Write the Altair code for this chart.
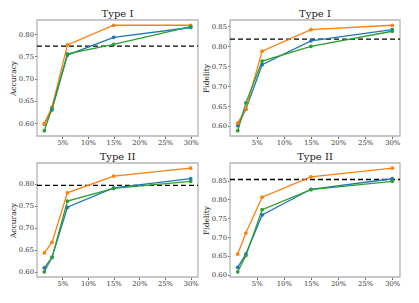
import altair as alt
import pandas as pd

# ---------------- data ----------------
x_pct = [1.5, 3, 6, 15, 30]
series_names = ["Method A", "Method B", "Method C"]
series_colors = ["#1f77b4", "#ff7f0e", "#2ca02c"]

acc1_a = [0.598, 0.630, 0.753, 0.793, 0.815]
acc1_b = [0.599, 0.636, 0.776, 0.820, 0.820]
acc1_c = [0.583, 0.634, 0.756, 0.777, 0.817]
acc1_ref = 0.773

fid1_a = [0.601, 0.642, 0.754, 0.814, 0.842]
fid1_b = [0.607, 0.643, 0.788, 0.842, 0.853]
fid1_c = [0.588, 0.658, 0.763, 0.800, 0.838]
fid1_ref = 0.818

acc2_a = [0.609, 0.633, 0.747, 0.791, 0.812]
acc2_b = [0.643, 0.667, 0.780, 0.818, 0.836]
acc2_c = [0.600, 0.633, 0.761, 0.790, 0.806]
acc2_ref = 0.797

fid2_a = [0.620, 0.655, 0.759, 0.827, 0.855]
fid2_b = [0.655, 0.711, 0.806, 0.860, 0.883]
fid2_c = [0.608, 0.651, 0.773, 0.826, 0.848]
fid2_ref = 0.853

x_ticks = [5, 10, 15, 20, 25, 30]
y_ticks = [0.60, 0.65, 0.70, 0.75, 0.80, 0.85]

FONT = "DejaVu Serif"
X_DOMAIN = [0.075, 31.425]


def long_df(a, b, c):
    rows = []
    for name, vals in zip(series_names, [a, b, c]):
        for xv, yv in zip(x_pct, vals):
            rows.append({"pct": xv, "value": yv, "series": name})
    return pd.DataFrame(rows)


def panel(a, b, c, ref, title, ytitle, xrange, yrange, x_offset, y_offset):
    vals = a + b + c
    lo, hi = min(vals), max(vals)
    m = (hi - lo) * 0.05
    ydom = [lo - m, hi + m]
    xs = alt.Scale(domain=X_DOMAIN, range=xrange, nice=False, zero=False)
    ys = alt.Scale(domain=ydom, range=yrange, nice=False, zero=False)
    color = alt.Color("series:N", scale=alt.Scale(domain=series_names, range=series_colors), legend=None)

    x_axis = alt.Axis(orient="bottom", offset=x_offset, values=x_ticks, labelExpr="datum.value + '%'",
                      grid=False, domain=False, tickSize=2.5, tickWidth=0.8, tickColor="#444",
                      labelFont=FONT, labelFontSize=6.8, labelColor="#333", labelPadding=1,
                      labelFlush=False, title=None)
    yticks = [t for t in y_ticks if ydom[0] <= t <= ydom[1]]
    y_axis = alt.Axis(orient="left", offset=y_offset, values=yticks, format=".2f",
                      grid=False, domain=False, tickSize=2.5, tickWidth=0.8, tickColor="#444",
                      labelFont=FONT, labelFontSize=6.8, labelColor="#333", labelPadding=1,
                      labelFlush=False, title=ytitle, titleFont=FONT, titleFontSize=7.5,
                      titleFontWeight="normal", titleColor="#222", titlePadding=1)

    df = long_df(a, b, c)
    one = pd.DataFrame({"k": [0]})

    frame = alt.Chart(one).mark_rect(filled=False, stroke="#b5b5b5", strokeWidth=1.3).encode(
        x=alt.X(datum=X_DOMAIN[0], type="quantitative", scale=xs, axis=x_axis),
        x2=alt.datum(X_DOMAIN[1]),
        y=alt.Y(datum=ydom[0], type="quantitative", scale=ys, axis=y_axis),
        y2=alt.datum(ydom[1]),
    )
    rule = alt.Chart(one).mark_rule(color="black", strokeDash=[5, 3], strokeWidth=1.3).encode(
        x=alt.X(datum=X_DOMAIN[0], type="quantitative", scale=xs, axis=None),
        x2=alt.datum(X_DOMAIN[1]),
        y=alt.Y(datum=ref, type="quantitative", scale=ys, axis=None),
    )
    lines = alt.Chart(df).mark_line(strokeWidth=1.3).encode(
        x=alt.X("pct:Q", scale=xs, axis=None),
        y=alt.Y("value:Q", scale=ys, axis=None),
        color=color,
        detail="series:N",
    )
    points = alt.Chart(df).mark_circle(size=14, opacity=1).encode(
        x=alt.X("pct:Q", scale=xs, axis=None),
        y=alt.Y("value:Q", scale=ys, axis=None),
        color=color,
    )
    ttl = alt.Chart(one).mark_text(text=title, font=FONT, fontSize=10, color="#222",
                                   baseline="alphabetic", align="center", dy=-3).encode(
        x=alt.X(datum=(X_DOMAIN[0] + X_DOMAIN[1]) / 2, type="quantitative", scale=xs, axis=None),
        y=alt.Y(datum=ydom[1], type="quantitative", scale=ys, axis=None),
    )
    return [frame, rule, lines, points, ttl]


W, H = 398, 281
LEFT = [29, 190]
RIGHT = [222, 392]
TOP = [128, 12]
BOT = [269, 155]

layers = []
layers += panel(acc1_a, acc1_b, acc1_c, acc1_ref, "Type I", "Accuracy", LEFT, TOP, TOP[0] - H, -LEFT[0])
layers += panel(fid1_a, fid1_b, fid1_c, fid1_ref, "Type I", "Fidelity", RIGHT, TOP, TOP[0] - H, -RIGHT[0])
layers += panel(acc2_a, acc2_b, acc2_c, acc2_ref, "Type II", "Accuracy", LEFT, BOT, BOT[0] - H, -LEFT[0])
layers += panel(fid2_a, fid2_b, fid2_c, fid2_ref, "Type II", "Fidelity", RIGHT, BOT, BOT[0] - H, -RIGHT[0])

chart = alt.layer(*layers).resolve_scale(
    x="independent", y="independent"
).resolve_axis(
    x="independent", y="independent"
).properties(
    width=W, height=H, padding=0,
    autosize=alt.AutoSizeParams(type="none"),
    background="white",
).configure_view(stroke=None)

chart.save("out.html", embed_options={"renderer": "svg", "actions": False})
